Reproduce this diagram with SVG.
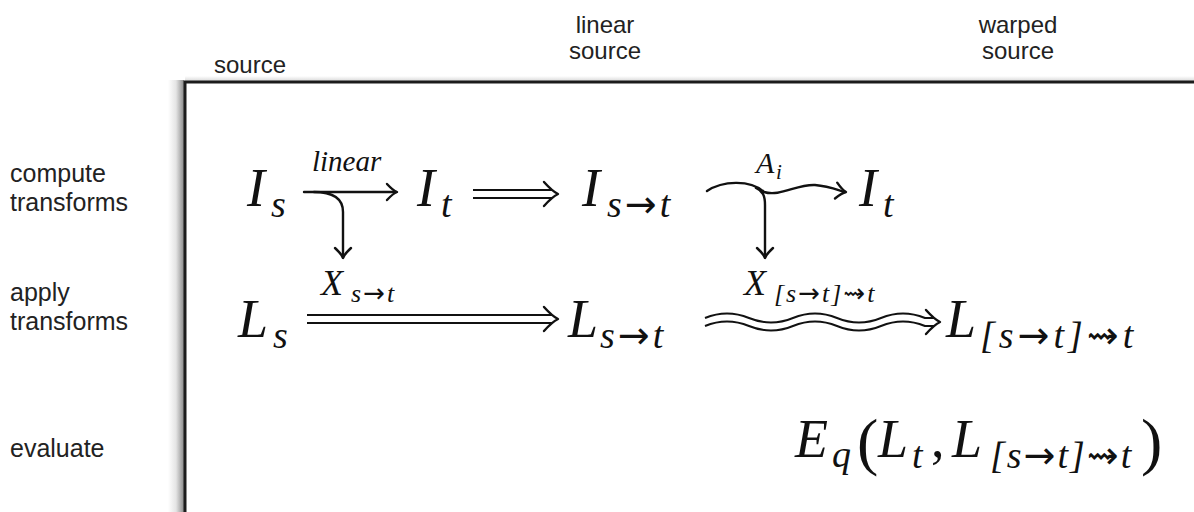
<svg xmlns="http://www.w3.org/2000/svg" xmlns:xlink="http://www.w3.org/1999/xlink" width="1194" height="512" viewBox="0 0 1194 512">
<defs>
<style>
.hdr{font-family:"Liberation Sans",Arial,sans-serif;font-size:24px;fill:#222}
.rl{font-family:"Liberation Sans",Arial,sans-serif;font-size:25px;fill:#222}
.m{font-family:"Liberation Serif","DejaVu Serif",serif;font-style:italic;font-size:54px;fill:#111}
.s{font-family:"Liberation Serif","DejaVu Serif",serif;font-style:italic;font-size:38px;fill:#111}
.lab{font-family:"Liberation Serif","DejaVu Serif",serif;font-style:italic;fill:#111}
.arr{font-family:"DejaVu Sans",sans-serif;font-style:normal}
.up{font-family:"Liberation Serif","DejaVu Serif",serif;font-style:normal;fill:#111}
.ln{fill:none;stroke:#111;stroke-width:2.4;stroke-linecap:round;stroke-linejoin:round}
.dl{fill:none;stroke:#111;stroke-width:2;stroke-linecap:butt}
</style>
<linearGradient id="shL" x1="0" y1="0" x2="1" y2="0">
<stop offset="0" stop-color="#fff"/><stop offset="0.5" stop-color="#e4e4e4"/><stop offset="1" stop-color="#8a8a8a"/>
</linearGradient>
<linearGradient id="shT" x1="0" y1="0" x2="0" y2="1">
<stop offset="0" stop-color="#fff"/><stop offset="1" stop-color="#dadada"/>
</linearGradient>
<path id="hd" d="M-10,-8 Q-4,-1.5 0,0 Q-4,1.5 -10,8"/>
<path id="dhd" d="M-14,-12 Q-6,-3 0,0 Q-6,3 -14,12"/>
</defs>
<rect width="1194" height="512" fill="#fff"/>

<g id="frame">
<rect x="168" y="80" width="16" height="432" fill="url(#shL)"/>
<rect x="185" y="76" width="1009" height="5" fill="url(#shT)"/>
<path d="M185,512 L185,82 L1194,82" fill="none" stroke="#1c1c1c" stroke-width="3"/>
</g>

<g id="headers" class="hdr" text-anchor="middle">
<text x="250" y="73">source</text>
<text x="605" y="33">linear</text>
<text x="605" y="59">source</text>
<text x="1018" y="33">warped</text>
<text x="1018" y="59">source</text>
</g>

<g id="rowlabels" class="rl">
<text x="10" y="182">compute</text>
<text x="10" y="211">transforms</text>
<text x="10" y="301">apply</text>
<text x="10" y="330">transforms</text>
<text x="10" y="457">evaluate</text>
</g>

<g id="node-Is"><text class="m" x="247" y="206">I</text><text class="s" x="271" y="217">s</text></g>
<g id="node-It1"><text class="m" x="417" y="206">I</text><text class="s" x="441" y="217">t</text></g>
<g id="node-Ist"><text class="m" x="582" y="206">I</text><text class="s" x="607" y="217" letter-spacing="3">s<tspan class="arr">→</tspan>t</text></g>
<g id="node-It2"><text class="m" x="859" y="206">I</text><text class="s" x="883" y="217">t</text></g>

<g id="node-Xst"><text class="lab" x="321" y="295" font-size="36">X</text><text class="lab" x="351" y="302" font-size="26" letter-spacing="2">s<tspan class="arr">→</tspan>t</text></g>
<g id="node-Xw"><text class="lab" x="744" y="295" font-size="36">X</text><text class="lab" x="774" y="302" font-size="26" letter-spacing="2">[s<tspan class="arr">→</tspan>t]<tspan class="arr">⇝</tspan>t</text></g>

<g id="node-Ls"><text class="m" x="238" y="337">L</text><text class="s" x="273" y="348">s</text></g>
<g id="node-Lst"><text class="m" x="568" y="337">L</text><text class="s" x="600" y="348" letter-spacing="3">s<tspan class="arr">→</tspan>t</text></g>
<g id="node-Lw"><text class="m" x="946" y="337">L</text><text class="s" x="980" y="348" font-size="39" letter-spacing="4">[s<tspan class="arr">→</tspan>t]<tspan class="arr">⇝</tspan>t</text></g>

<g id="node-Eq">
<text class="m" x="795" y="457">E</text><text class="s" x="832" y="467">q</text>
<text class="up" x="857" y="463" font-size="64">(</text>
<text class="m" x="878" y="457">L</text><text class="s" x="912" y="468">t</text>
<text class="up" x="931" y="457" font-size="54">,</text>
<text class="m" x="952" y="457">L</text><text class="s" x="990" y="468" letter-spacing="2">[s<tspan class="arr">→</tspan>t]<tspan class="arr">⇝</tspan>t</text>
<text class="up" x="1141" y="463" font-size="64">)</text>
</g>

<g id="connectors">
<text class="lab" x="312" y="171" font-size="29">linear</text>
<path class="ln" d="M304,192 L396,192"/>
<use href="#hd" class="ln" transform="translate(397,192)"/>
<path class="ln" d="M314,192 C334,192 343,199 343,212 L343,257"/>
<use href="#hd" class="ln" transform="translate(343,258) rotate(90)"/>

<path class="dl" d="M473,190 L552,190 M473,198 L552,198"/>
<use href="#dhd" class="ln" transform="translate(558,194)"/>

<text class="lab" x="756" y="173" font-size="30">A</text><text class="lab" x="776" y="179" font-size="21">i</text>
<path class="ln" d="M707,191 C722,181 750,179 764,192 C780,197 797,184 815,185 C828,186 838,190 845,192"/>
<use href="#hd" class="ln" transform="translate(846,192) rotate(8)"/>
<path class="ln" d="M756,188 C763,191 765,196 765,205 L765,257"/>
<use href="#hd" class="ln" transform="translate(765,258) rotate(90)"/>

<path class="dl" d="M307,315 L552,315 M307,323 L552,323"/>
<use href="#dhd" class="ln" transform="translate(558,319)"/>

<path class="dl" d="M705,318 Q727,309 749,318 T793,318 T837,318 T881,318 T925,318 L934,318 M705,326 Q727,317 749,326 T793,326 T837,326 T881,326 T925,326 L934,326"/>
<use href="#dhd" class="ln" transform="translate(940,322)"/>
</g>
</svg>
